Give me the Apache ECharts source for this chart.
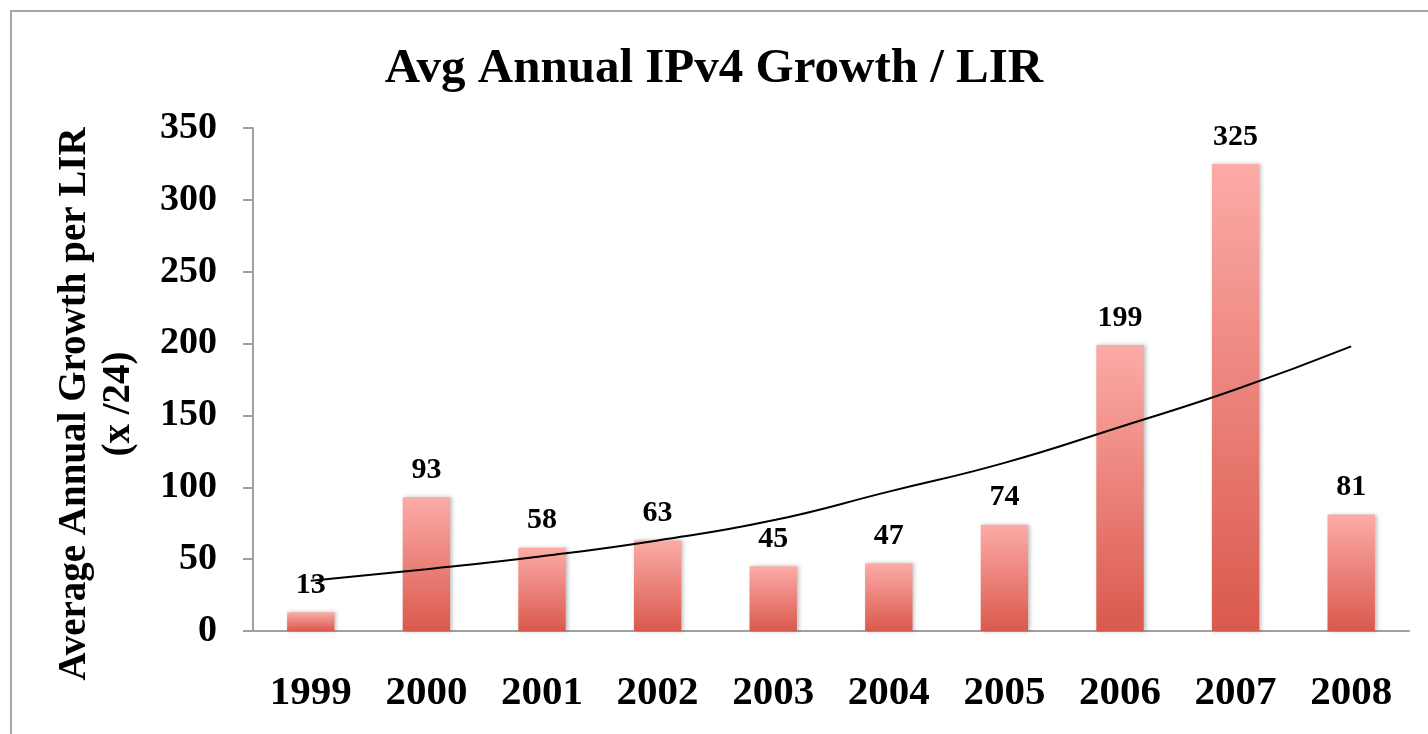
<!DOCTYPE html>
<html>
<head>
<meta charset="utf-8">
<script src="https://cdn.jsdelivr.net/npm/echarts@6/dist/echarts.min.js"></script>
<style>
  html, body { margin: 0; padding: 0; background: #fff; }
  #main { width: 1428px; height: 734px; }
</style>
</head>
<body>
<div id="main"></div>
<script>
// data
var years = ['1999', '2000', '2001', '2002', '2003', '2004', '2005', '2006', '2007', '2008'];
var growth = [13, 93, 58, 63, 45, 47, 74, 199, 325, 81];
// exponential trend line at each year
var trend = [35, 43, 52, 63, 77, 97, 117, 142, 168, 198];
var yTicks = [0, 50, 100, 150, 200, 250, 300, 350];

var font = 'Liberation Serif';

var chart = echarts.init(document.getElementById('main'));
chart.setOption({
    animation: false,
    backgroundColor: '#fff',
    title: {
        text: 'Avg Annual IPv4 Growth / LIR',
        left: 'center',
        top: 40,
        textStyle: {
            fontFamily: font,
            fontSize: 49,
            fontWeight: 'bold',
            color: '#000'
        }
    },
    graphic: [
        {
            type: 'rect',
            shape: { x: 11, y: 11, width: 1440, height: 760 },
            style: { fill: 'none', stroke: '#a6a6a6', lineWidth: 2 },
            silent: true
        },
        {
            type: 'text',
            x: 97,
            y: 404,
            rotation: Math.PI / 2,
            style: {
                text: 'Average Annual Growth per LIR\n(x /24)',
                fontFamily: font,
                fontSize: 39,
                fontWeight: 'bold',
                fill: '#000',
                align: 'center',
                verticalAlign: 'middle',
                lineHeight: 44
            }
        }
    ],
    grid: {
        left: 253,
        right: 19,
        top: 128,
        bottom: 103
    },
    xAxis: {
        type: 'category',
        data: years,
        axisLine: { lineStyle: { color: '#a0a0a0', width: 2 } },
        axisTick: { length: 12, lineStyle: { color: '#a0a0a0', width: 2 } },
        axisLabel: {
            margin: 42,
            fontFamily: font,
            fontSize: 41,
            fontWeight: 'bold',
            color: '#000'
        }
    },
    yAxis: {
        type: 'value',
        min: yTicks[0],
        max: yTicks[yTicks.length - 1],
        interval: 50,
        splitLine: { show: false },
        axisLine: { show: true, lineStyle: { color: '#a0a0a0', width: 2 } },
        axisTick: { show: true, length: 10, lineStyle: { color: '#a0a0a0', width: 2 } },
        axisLabel: {
            margin: 36,
            fontFamily: font,
            fontSize: 38,
            fontWeight: 'bold',
            color: '#000'
        }
    },
    series: [
        {
            name: 'Growth',
            type: 'bar',
            data: growth,
            barWidth: '41%',
            itemStyle: {
                color: new echarts.graphic.LinearGradient(0, 0, 0, 1, [
                    { offset: 0, color: '#fcaba7' },
                    { offset: 1, color: '#da594d' }
                ]),
                shadowColor: 'rgba(0,0,0,0.25)',
                shadowBlur: 4,
                shadowOffsetX: 2
            },
            label: {
                show: true,
                position: 'top',
                distance: 12,
                fontFamily: font,
                fontSize: 30,
                fontWeight: 'bold',
                color: '#000'
            }
        },
        {
            name: 'Trend',
            type: 'line',
            data: trend,
            smooth: true,
            symbol: 'none',
            z: 5,
            lineStyle: { color: '#000', width: 2 }
        }
    ]
});
</script>
</body>
</html>
